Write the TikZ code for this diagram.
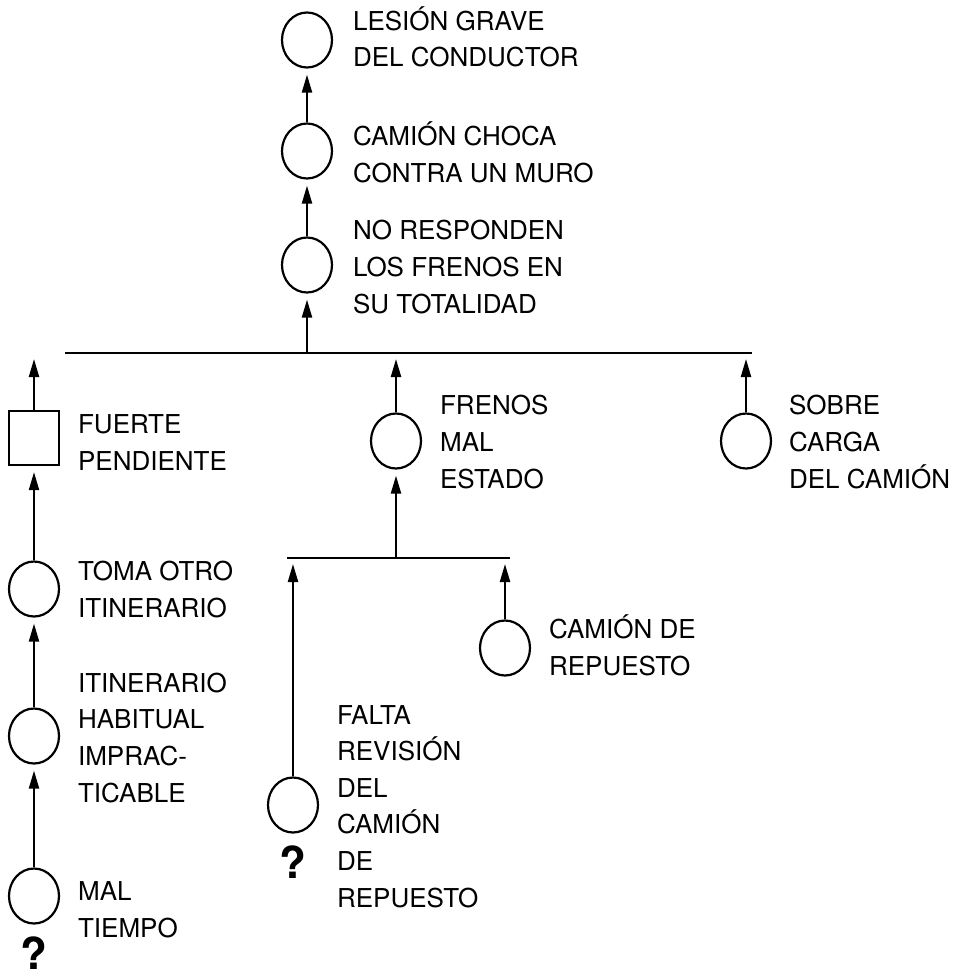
\documentclass[tikz,border=0pt]{standalone}
\usepackage{fontspec}
\setmainfont{TeX Gyre Heros}
\usetikzlibrary{arrows.meta,shapes.geometric}

\begin{document}
\begin{tikzpicture}[x=0.5pt, y=-0.5pt, line width=1.1pt,
    ev/.style={draw,ellipse,inner sep=0,minimum width=25pt,minimum height=27.5pt},
    sq/.style={draw,rectangle,inner sep=0,minimum width=25pt,minimum height=27pt},
    txt/.style={anchor=base west,align=left,inner sep=0,font=\fontsize{13pt}{18.3pt}\selectfont},
    qm/.style={anchor=base,inner sep=0,font=\fontsize{22pt}{22pt}\selectfont\bfseries},
    arr/.style={-{Triangle[length=9pt,width=5pt]},shorten >=3pt}]
    \useasboundingbox (0, 0) rectangle (962, 974);

    \node[ev](les) at (307, 40) {};
    \node[ev](cho) at (307, 151) {};
    \node[ev](nor) at (307, 265) {};
    \node[txt](lesT) at (352, 67) {LESIÓN GRAVE\\DEL CONDUCTOR};
    \node[txt](choT) at (352, 182) {CAMIÓN CHOCA\\CONTRA UN MURO};
    \node[txt](norT) at (352, 313) {NO RESPONDEN\\LOS FRENOS EN\\SU TOTALIDAD};

    \draw[arr] (cho) -- (les);
    \draw[arr] (nor) -- (cho);

    % upper bar
    \coordinate (b1L) at (65, 353);
    \coordinate (b1R) at (752, 353);
    \coordinate (b1M) at (307, 353);
    \draw (b1L) -- (b1R);
    \draw[arr] (b1M) -- (nor);

    \node[sq](fue) at (34, 438) {};
    \node[ev](fre) at (396, 441) {};
    \node[ev](sob) at (746, 441) {};
    \node[txt](fueT) at (77, 470) {FUERTE\\PENDIENTE};
    \node[txt](freT) at (439, 488) {FRENOS\\MAL\\ESTADO};
    \node[txt](sobT) at (788, 488) {SOBRE\\CARGA\\DEL CAMIÓN};

    \coordinate (fueU) at (34, 353);
    \coordinate (freU) at (396, 353);
    \coordinate (sobU) at (746, 353);
    \draw[arr] (fue) -- (fueU);
    \draw[arr] (fre) -- (freU);
    \draw[arr] (sob) -- (sobU);

    % lower bar
    \coordinate (b2L) at (287, 558);
    \coordinate (b2R) at (510, 558);
    \coordinate (b2M) at (396, 558);
    \draw (b2L) -- (b2R);
    \draw[arr] (b2M) -- (fre);

    \node[ev](fal) at (293, 805) {};
    \node[ev](rep) at (505, 648) {};
    \node[txt](falT) at (336, 907) {FALTA\\REVISIÓN\\DEL\\CAMIÓN\\DE\\REPUESTO};
    \node[txt](repT) at (548, 675) {CAMIÓN DE\\REPUESTO};
    \node[qm](falQ) at (293, 878) {?};

    \coordinate (falU) at (293, 558);
    \coordinate (repU) at (505, 558);
    \draw[arr] (fal) -- (falU);
    \draw[arr] (rep) -- (repU);

    % left column
    \node[ev](tom) at (34, 589) {};
    \node[ev](iti) at (34, 736) {};
    \node[ev](mal) at (34, 896) {};
    \node[txt](tomT) at (77, 617) {TOMA OTRO\\ITINERARIO};
    \node[txt](itiT) at (77, 802) {ITINERARIO\\HABITUAL\\IMPRAC-\\TICABLE};
    \node[txt](malT) at (77, 937) {MAL\\TIEMPO};
    \node[qm](malQ) at (34, 969) {?};

    \draw[arr] (mal) -- (iti);
    \draw[arr] (iti) -- (tom);
    \draw[arr] (tom) -- (fue);
\end{tikzpicture}
\end{document}
